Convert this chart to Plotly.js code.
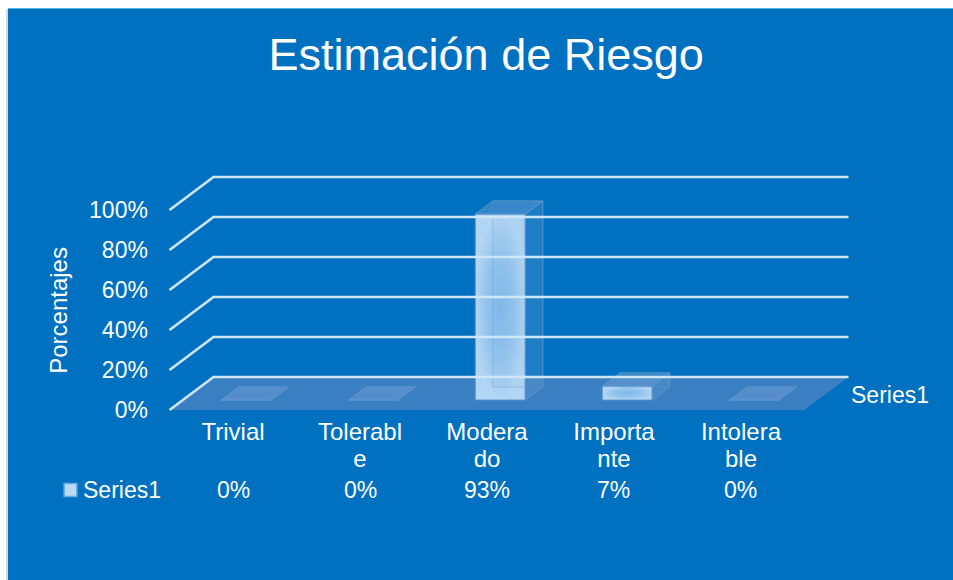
<!DOCTYPE html>
<html>
<head>
<meta charset="utf-8">
<script src="https://cdn.plot.ly/plotly-3.0.1.min.js"></script>
<style>
html,body{margin:0;padding:0;background:#fff;width:953px;height:580px;overflow:hidden}
#frameLeft{position:absolute;left:6px;top:9px;width:2px;height:571px;background:#d4d8d6}
#frameTop{position:absolute;left:8px;top:8px;width:945px;height:1px;background:#55b4e6}
#chart{position:absolute;left:8px;top:9px;width:945px;height:571px}
</style>
</head>
<body>
<div id="frameLeft"></div><div id="frameTop"></div><div id="chart"></div>
<script>
const titleText = 'Estimación de Riesgo';
const yTitleText = 'Porcentajes';
const seriesName = 'Series1';
const categories = ['Trivial','Tolerable','Moderado','Importante','Intolerable'];
const tickLabels = ['Trivial','Tolerabl<br>e','Modera<br>do','Importa<br>nte','Intolera<br>ble'];
const values = [0,0,93,7,0];
const yTicks = [0,20,40,60,80,100];

// oblique projection of the 3-D floor, in axis units
const depthX = 0.3465, depthY = 16.5;
const barFront = 0.3, barDepth = 0.4, barWidth = 0.394;
const padX = 0.02, padY = 2;            // room so the outer lines are not clipped
const idx = categories.map((_, i) => i);
const baseY = barFront * depthY;
const xL = i => i + barFront * depthX - barWidth / 2;
const xR = i => xL(i) + barWidth;
const ddx = barDepth * depthX, ddy = barDepth * depthY;

function polys(list){
  const xs = [], ys = [];
  list.forEach(p => { p.forEach(q => { xs.push(q[0]); ys.push(q[1]); }); xs.push(null); ys.push(null); });
  return {x: xs, y: ys};
}
const tops = polys(idx.map(i => { const t = baseY + values[i];
  return [[xL(i),t],[xR(i),t],[xR(i)+ddx,t+ddy],[xL(i)+ddx,t+ddy],[xL(i),t]]; }));
const sides = polys(idx.filter(i => values[i] > 0).map(i => { const t = baseY + values[i];
  return [[xR(i),baseY],[xR(i)+ddx,baseY+ddy],[xR(i)+ddx,t+ddy],[xR(i),t],[xR(i),baseY]]; }));
const backs = polys(idx.filter(i => values[i] > 0).map(i => { const t = baseY + values[i];
  return [[xL(i)+ddx,baseY+ddy],[xR(i)+ddx,baseY+ddy],[xR(i)+ddx,t+ddy],[xL(i)+ddx,t+ddy],[xL(i)+ddx,baseY+ddy]]; }));
const grid = polys(yTicks.map(v => [[-0.5,v],[-0.5+depthX,v+depthY],[4.5+depthX,v+depthY]]));

const faceLine = {color:'rgba(95,150,205,0.8)', width:1};
const traces = [
  {type:'bar', x:idx, y:values, base:baseY, width:barWidth, offset:-barWidth/2+barFront*depthX, name:seriesName,
   marker:{color:'#a6cff0', line:{color:'#4f8fcb', width:1}}, hoverinfo:'x+y', showlegend:false},
  {type:'scatter', mode:'lines', x:backs.x, y:backs.y, fill:'toself', fillcolor:'rgba(120,170,220,0.05)', line:{color:'rgba(95,150,205,0.35)', width:1}, hoverinfo:'skip', showlegend:false},
  {type:'scatter', mode:'lines', x:sides.x, y:sides.y, fill:'toself', fillcolor:'rgba(120,170,215,0.22)', line:faceLine, hoverinfo:'skip', showlegend:false},
  {type:'scatter', mode:'lines', x:tops.x, y:tops.y, fill:'toself', fillcolor:'rgba(125,165,215,0.42)', line:faceLine, hoverinfo:'skip', showlegend:false},
  {type:'scatter', mode:'lines', x:grid.x, y:grid.y, line:{color:'#cfe6f6', width:2.6}, hoverinfo:'skip', showlegend:false}
];

const white = '#ffffff', fam = '"Liberation Sans", Arial, sans-serif';
const xRange = [-0.5 - padX, 4.5 + depthX + padX];
const yRange = [-padY, 100 + depthY + padY];
const pxX = 127, pxY = 2;               // pixels per axis unit
const xP = v => (v - xRange[0]) / (xRange[1] - xRange[0]);
const yP = v => (v - yRange[0]) / (yRange[1] - yRange[0]);
const rowY = yP(-40);
const annotations = idx.map(i => ({x:xP(i), y:rowY, xref:'paper', yref:'paper', text:values[i] + '%', showarrow:false,
  font:{family:fam, size:23, color:white}, xanchor:'center', yanchor:'middle'}));
annotations.push(
  {x:xP(-1.185), y:rowY, xref:'paper', yref:'paper', text:seriesName, showarrow:false, font:{family:fam, size:23, color:white}, xanchor:'left', yanchor:'middle', xshift:-2},
  {x:xP(4.862), y:yP(7.5), xref:'paper', yref:'paper', text:seriesName, showarrow:false, font:{family:fam, size:23, color:white}, xanchor:'left', yanchor:'middle', xshift:-1},
  {x:xP(-1.38), y:yP(50), xref:'paper', yref:'paper', text:yTitleText, textangle:-90, showarrow:false, font:{family:fam, size:24, color:white}, xanchor:'center', yanchor:'middle'}
);

const layout = {
  width:945, height:571,
  margin:{l:162 - padX * pxX, r:105 - padX * pxX, t:168 - padY * pxY, b:170 - padY * pxY},
  paper_bgcolor:'#0070c0', plot_bgcolor:'rgba(0,0,0,0)',
  title:{text:titleText, x:0.506, xanchor:'center', y:0.92, yanchor:'middle', font:{family:fam, size:45, color:white}},
  showlegend:false, barmode:'overlay', hovermode:'closest',
  xaxis:{type:'linear', range:xRange, tickmode:'array', tickvals:idx, ticktext:tickLabels,
    showgrid:false, zeroline:false, showline:false, ticks:'', ticklabelstandoff:1,
    tickfont:{family:fam, size:24, color:white}, tickangle:0, fixedrange:true},
  yaxis:{range:yRange, tickmode:'array', tickvals:yTicks, ticktext:yTicks.map(v => v + '%'),
    showgrid:false, zeroline:false, showline:false, ticks:'outside', ticklen:13.5, tickcolor:'rgba(0,0,0,0)',
    tickfont:{family:fam, size:23, color:white}, fixedrange:true},
  shapes:[
    {type:'path', xref:'x', yref:'y', layer:'below', line:{width:0}, fillcolor:'#3a7fc1',
     path:`M-0.5,0 L${-0.5+depthX},${depthY} L${4.5+depthX},${depthY} L4.5,0 Z`},
    {type:'rect', xref:'paper', yref:'paper', x0:xP(-1.33), x1:xP(-1.23), y0:yP(-43.2), y1:yP(-36.8),
     fillcolor:'#bcdaf5', line:{color:'#6aaae0', width:1.5}}
  ],
  annotations
};

Plotly.newPlot('chart', traces, layout, {displayModeBar:false, responsive:false}).then(gd => {
  const svg = gd.querySelector('.main-svg');
  const ns = 'http://www.w3.org/2000/svg';
  const defs = svg.querySelector('defs') || svg.insertBefore(document.createElementNS(ns,'defs'), svg.firstChild);
  const g = document.createElementNS(ns,'radialGradient');
  g.setAttribute('id','barGlow');
  [['0%','#82b9e9'],['55%','#92c3ed'],['100%','#b2d5f3']].forEach(s => {
    const st = document.createElementNS(ns,'stop');
    st.setAttribute('offset',s[0]); st.setAttribute('stop-color',s[1]); g.appendChild(st);
  });
  defs.appendChild(g);
  gd.querySelectorAll('.bars .point path').forEach(p => { p.style.fill = 'url(#barGlow)'; });
  gd.querySelectorAll('.xtick tspan.line').forEach(t => { if (parseFloat(t.getAttribute('dy')) > 0) t.setAttribute('dy','27px'); });
});
</script>
</body>
</html>
